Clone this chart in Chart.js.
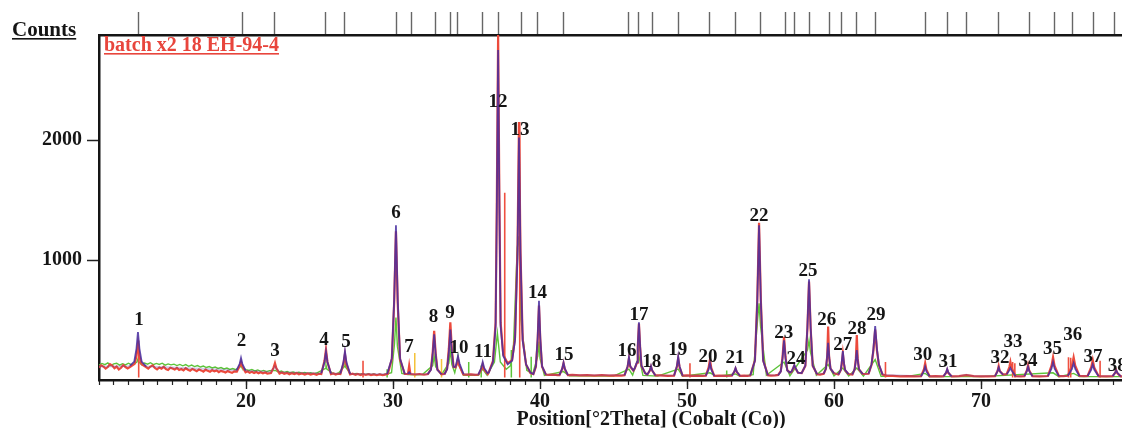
<!DOCTYPE html>
<html><head><meta charset="utf-8">
<script src="https://cdn.jsdelivr.net/npm/chart.js@4.4.0/dist/chart.umd.min.js"></script>
<style>
html,body{margin:0;padding:0;background:#fff;overflow:hidden;width:1122px;height:428px}
#wrap{position:absolute;left:0;top:0;width:1210px;height:428px}
</style>
</head><body><div id="wrap"><canvas id="c" width="1210" height="428"></canvas></div>
<script>
// ---------------- data ----------------
const xMajorTicks = [20, 30, 40, 50, 60, 70];
const yTicks = [1000, 2000];
// reference-pattern marks along the top border (°2θ)
const topTicks = [12.70, 19.73, 21.97, 25.44, 26.73, 30.27, 31.29, 32.86, 33.88, 34.42, 36.12, 37.21, 38.71, 39.86, 41.63,
  46.05, 46.73, 47.62, 49.39, 51.56, 53.27, 54.97, 56.67, 57.28, 58.30, 59.66, 60.54, 61.56, 62.79,
  66.19, 67.69, 68.98, 71.22, 73.27, 74.97, 76.19, 77.62, 79.05];

// calculated profile (purple)
const calcTrace = [[10,112],[11,114],[12,116],
 [12.1,118],[12.4,153],[12.55,262],[12.65,400],[12.75,262],[12.9,153],[13.2,114],
 [15,104],[18,88],[19.35,80],
 [19.57,135],[19.66,183],[19.75,135],[19.97,78],
 [21.7,68],[21.88,95],[21.97,115],[22.06,95],[22.3,66],
 [25.12,56],[25.34,150],[25.44,235],[25.54,150],[25.78,54],
 [26.42,53],[26.63,150],[26.73,240],[26.83,150],[27.08,51],
 [29.6,50],[29.92,180],[30.08,672],[30.2,1290],[30.32,672],[30.48,180],[30.8,50],
 [31.0,50],[31.1,65],[31.2,50],
 [32.35,48],[32.58,85],[32.7,215],[32.8,380],[32.9,215],[33.02,85],[33.3,48],
 [33.5,48],[33.68,90],[33.8,235],[33.9,420],[34.0,235],[34.12,110],[34.25,110],
 [34.33,150],[34.42,200],[34.52,140],[34.8,48],
 [35.8,45],[36.0,100],[36.1,150],[36.2,100],[36.45,52],
 [36.5,56],[36.8,150],[36.98,450],[37.06,1400],[37.15,2750],[37.24,1400],[37.32,450],[37.5,200],[37.8,130],
 [38.1,160],[38.3,330],[38.47,1050],[38.57,2020],[38.67,1050],[38.82,330],[39.05,130],[39.35,62],
 [39.55,50],[39.72,115],[39.84,350],[39.93,660],[40.02,350],[40.14,115],[40.4,45],
 [41.32,41],[41.51,95],[41.6,145],[41.69,95],[41.9,40],
 [45.75,40],[45.96,115],[46.05,190],[46.14,115],[46.35,80],
 [46.45,100],[46.6,150],[46.65,280],[46.73,480],[46.81,280],[46.9,120],[47.15,58],
 [47.3,46],[47.47,80],[47.55,117],[47.63,80],[47.85,38],
 [49.12,37],[49.31,115],[49.4,195],[49.49,115],[49.7,36],
 [51.28,36],[51.47,88],[51.56,140],[51.65,88],[51.85,35],
 [53.05,36],[53.21,68],[53.3,100],[53.39,68],[53.6,35],
 [54.3,37],[54.62,160],[54.78,660],[54.9,1290],[55.02,660],[55.18,160],[55.5,40],
 [56.2,40],[56.38,70],[56.5,180],[56.6,330],[56.7,180],[56.82,80],[57.0,62],
 [57.12,72],[57.22,100],[57.3,125],[57.38,100],[57.55,62],
 [57.8,58],[58.05,120],[58.19,440],[58.3,840],[58.41,440],[58.55,120],[58.85,48],
 [59.3,52],[59.45,95],[59.52,180],[59.6,310],[59.68,180],[59.76,95],[60.0,55],
 [60.3,46],[60.46,85],[60.52,140],[60.6,240],[60.68,140],[60.75,85],[60.98,50],
 [61.25,46],[61.4,90],[61.47,145],[61.55,250],[61.63,145],[61.7,90],[61.95,50],
 [62.35,52],[62.55,130],[62.68,260],[62.8,450],[62.92,260],[63.05,130],[63.3,45],
 [65.92,31],[66.11,72],[66.2,110],[66.29,72],[66.5,31],
 [67.45,31],[67.62,62],[67.7,92],[67.78,62],[68.0,30],
 [68.5,32],[69.0,44],[69.5,32],
 [70.95,32],[71.11,70],[71.2,105],[71.29,70],[71.5,45],
 [71.75,48],[71.91,78],[72.0,100],[72.09,78],[72.35,31],
 [72.95,32],[73.11,72],[73.2,110],[73.29,72],[73.5,31],
 [74.55,33],[74.79,95],[74.9,150],[75.01,95],[75.3,32],
 [75.9,35],[76.18,90],[76.3,140],[76.42,90],[76.7,33],
 [77.25,33],[77.49,85],[77.6,130],[77.71,85],[78.0,32],
 [78.95,32],[79.11,58],[79.2,80],[79.29,58],[79.5,31],[85,30]];

// observed pattern (red)
const obsTrace = [[10.0,105],[10.15,122],[10.3,112],[10.45,95],[10.6,108],[10.75,132],[10.9,120],[11.05,98],[11.2,112],
 [11.35,88],[11.5,102],[11.65,125],[11.8,108],[11.95,96],
 [12.15,112],[12.42,135],[12.55,200],[12.65,300],[12.75,195],[12.9,130],[13.2,108],
 [13.35,95],[13.5,112],[13.65,122],[13.8,100],[13.95,88],[14.1,104],[14.25,95],[14.4,110],[14.55,92],[14.7,84],
 [14.85,102],[15.0,96],[15.15,88],[15.3,100],[15.45,84],[15.6,92],[15.75,80],[15.9,98],[16.05,86],
 [16.2,78],[16.35,92],[16.5,84],[16.65,74],[16.8,88],[16.95,80],[17.1,70],[17.25,86],[17.4,76],[17.55,68],
 [17.7,82],[17.85,72],[18.0,80],[18.15,66],[18.3,76],[18.45,70],[18.6,62],[18.75,74],[18.9,66],[19.05,60],[19.2,72],
 [19.38,70],[19.57,118],[19.66,150],[19.75,112],[19.97,64],
 [20.1,72],[20.25,60],[20.4,68],[20.55,58],[20.7,66],[20.85,56],[21.0,64],[21.15,55],[21.3,62],[21.45,54],
 [21.7,58],[21.88,105],[21.97,140],[22.06,100],[22.28,54],
 [22.45,62],[22.6,52],[22.8,58],[22.95,48],[23.1,56],[23.3,50],[23.45,58],[23.6,47],[23.8,54],[24.0,46],
 [24.2,54],[24.4,45],[24.6,52],[24.8,44],[24.95,52],
 [25.12,50],[25.34,160],[25.44,255],[25.54,150],[25.78,48],
 [25.95,54],[26.1,45],[26.25,52],
 [26.42,50],[26.63,135],[26.73,215],[26.83,130],[27.08,46],
 [27.25,52],[27.45,44],[27.6,50],[27.8,42],[27.95,50],[28.15,42],[28.35,48],[28.5,41],[28.7,47],[28.9,40],
 [29.1,46],[29.3,40],[29.45,45],
 [29.65,52],[29.92,175],[30.08,650],[30.2,1240],[30.32,640],[30.48,170],[30.8,50],
 [31.02,50],[31.1,120],[31.18,50],[31.5,46],[31.8,50],[32.1,44],
 [32.38,50],[32.58,90],[32.7,230],[32.8,410],[32.9,225],[33.02,88],[33.3,48],
 [33.52,52],[33.68,95],[33.8,265],[33.9,480],[34.0,260],[34.12,110],[34.25,105],
 [34.34,130],[34.42,170],[34.51,120],[34.78,46],
 [35.0,44],[35.3,47],[35.6,42],
 [35.82,46],[36.01,90],[36.1,130],[36.19,88],[36.45,50],
 [36.5,60],[36.8,160],[36.98,480],[37.06,1450],[37.15,2875],[37.24,1450],[37.32,480],[37.5,210],[37.8,140],
 [38.1,165],[38.3,350],[38.47,1100],[38.57,2150],[38.67,1080],[38.82,340],[39.05,130],[39.35,58],
 [39.55,50],[39.72,110],[39.84,330],[39.93,620],[40.02,330],[40.14,110],[40.4,45],
 [40.6,42],[40.9,45],[41.2,40],
 [41.32,41],[41.51,92],[41.6,140],[41.69,90],[41.9,40],
 [42.2,42],[42.7,38],[43.2,41],[43.7,37],[44.2,40],[44.7,36],[45.2,39],[45.55,37],
 [45.75,40],[45.96,110],[46.05,180],[46.14,110],[46.35,78],
 [46.45,98],[46.6,145],[46.65,270],[46.73,470],[46.81,270],[46.9,118],[47.15,56],
 [47.3,45],[47.47,78],[47.55,110],[47.63,78],[47.85,38],
 [48.2,38],[48.7,35],
 [49.12,37],[49.31,110],[49.4,180],[49.49,108],[49.7,36],
 [50.0,38],[50.3,35],[50.7,37],[51.05,34],
 [51.28,36],[51.47,105],[51.56,170],[51.65,100],[51.85,35],
 [52.2,37],[52.6,34],
 [53.05,36],[53.21,66],[53.3,95],[53.39,65],[53.6,35],
 [53.9,36],[54.1,34],
 [54.3,37],[54.62,165],[54.78,670],[54.9,1310],[55.02,670],[55.18,165],[55.5,40],
 [55.7,37],[56.0,38],
 [56.2,42],[56.38,75],[56.5,195],[56.6,360],[56.7,192],[56.82,82],[57.0,62],
 [57.12,70],[57.22,98],[57.3,120],[57.38,98],[57.55,60],
 [57.8,58],[58.05,118],[58.19,430],[58.3,820],[58.41,430],[58.55,118],[58.85,48],
 [59.05,45],
 [59.3,52],[59.45,95],[59.54,200],[59.6,445],[59.66,200],[59.76,95],[60.0,55],
 [60.3,46],[60.46,82],[60.52,130],[60.6,220],[60.68,130],[60.75,82],[60.98,50],
 [61.25,46],[61.4,88],[61.49,180],[61.55,375],[61.61,180],[61.7,88],[61.95,50],
 [62.35,52],[62.55,125],[62.68,245],[62.8,420],[62.92,245],[63.05,125],[63.3,45],
 [63.6,35],[64.0,34],[64.5,31],[65.0,33],[65.5,30],
 [65.92,31],[66.12,90],[66.2,140],[66.28,88],[66.5,31],
 [66.9,32],[67.3,30],
 [67.45,31],[67.63,60],[67.7,85],[67.77,60],[68.0,30],
 [68.5,33],[69.0,40],[69.5,32],[70.0,30],[70.5,31],
 [70.95,32],[71.13,78],[71.2,117],[71.27,76],[71.5,45],
 [71.75,50],[71.93,108],[72.0,150],[72.07,105],[72.35,32],
 [72.7,31],
 [72.95,32],[73.13,84],[73.2,125],[73.27,82],[73.5,31],
 [74.0,30],
 [74.55,33],[74.8,122],[74.9,190],[75.0,120],[75.3,32],
 [75.6,33],
 [75.9,35],[76.19,122],[76.3,190],[76.41,120],[76.7,33],
 [77.0,32],
 [77.25,33],[77.5,108],[77.6,167],[77.7,105],[78.0,32],
 [78.5,30],
 [78.95,32],[79.13,60],[79.2,80],[79.27,58],[79.5,31],[85,30]];

// second scan (green)
const greenTrace = [[10,125],[10.2,138],[10.4,128],[10.6,142],[10.8,120],[11.0,134],[11.2,140],[11.4,124],[11.6,136],
 [11.8,126],[12.0,140],[12.2,128],[12.4,134],[12.58,150],[12.65,175],[12.72,150],[12.9,128],
 [13.1,142],[13.3,132],[13.5,144],[13.7,128],[13.9,138],[14.1,130],[14.3,140],[14.5,124],[14.7,134],[14.9,126],
 [15.1,132],[15.3,120],[15.5,130],[15.7,118],[15.9,128],[16.1,114],[16.3,124],[16.5,112],[16.7,120],[16.9,108],
 [17.1,116],[17.3,104],[17.5,112],[17.7,100],[17.9,108],[18.1,96],[18.3,104],[18.5,92],[18.7,100],[18.9,88],
 [19.1,96],[19.3,86],[19.6,108],[19.66,125],[19.72,105],[20.0,86],[20.2,80],[20.4,88],[20.6,76],[20.8,84],
 [21.0,72],[21.2,80],[21.4,70],[21.6,78],[22.0,80],[22.2,66],[22.4,74],[22.6,64],[22.8,70],[23.0,60],[23.2,66],
 [23.4,58],[23.6,64],[23.8,56],[24.0,62],[24.2,54],[24.4,60],[24.6,52],[24.8,58],
 [25.38,95],[25.44,125],[25.5,90],[25.9,56],[26.1,50],[26.3,58],[26.67,110],[26.73,150],[26.79,105],[27.1,54],
 [27.3,48],[27.5,54],[27.7,46],[27.9,52],[28.1,45],[28.3,51],[28.5,44],[28.7,50],[28.9,43],[29.1,49],[29.3,42],
 [29.5,48],[29.9,60],[30.1,300],[30.2,520],[30.3,280],[30.6,55],
 [31.0,46],[31.5,44],[32.0,46],[32.7,120],[32.8,200],[32.9,110],[33.3,44],[33.8,140],[33.9,250],[34.0,130],[34.2,60],
 [34.35,140],[34.42,200],[34.5,120],[34.8,40],[35.8,40],[36.1,90],[36.4,40],[36.9,150],[37.1,390],[37.3,150],[37.7,90],
 [38.0,120],[38.2,300],[38.45,1100],[38.57,1200],[38.7,500],[39.1,80],[39.5,50],[39.85,200],[39.93,320],[40.0,180],[40.3,38],
 [41.6,70],[42,34],[45,33],[46.05,90],[46.3,40],[46.73,200],[47.0,38],[48,32],[49.4,90],[49.7,32],[51.56,60],[52,31],
 [53.3,50],[53.6,30],[54.5,45],[54.8,500],[54.9,640],[55.0,450],[55.4,40],[56.6,150],[57.0,35],[58.2,250],[58.3,330],
 [58.4,230],[58.8,40],[59.6,130],[60.0,35],[60.6,100],[61.0,33],[61.55,100],[62.0,33],[62.8,170],[63.2,30],[65,30],
 [66.2,55],[66.5,28],[70,28],[74.9,60],[75.3,28],[76.3,55],[76.7,28],[85,28]];

// single reflection sticks
const redStickX   = [12.70, 27.96, 37.60, 38.62, 50.20, 63.50, 72.15, 72.30, 75.95, 76.10, 78.10];
const redStickTop = [330, 160, 1560, 2150, 140, 150, 150, 140, 190, 185, 160];
const greenStickX   = [29.60, 35.15, 36.00, 38.05, 39.40, 52.70];
const greenStickTop = [90, 150, 120, 250, 194, 80];
const orangeStickX   = [31.48, 33.30];
const orangeStickTop = [225, 175];

// peak numbers and where they sit (°2θ, counts)
const peakLabels = ['1','2','3','4','5','6','7','8','9','10','11','12','13','14','15','16','17','18','19',
  '20','21','22','23','24','25','26','27','28','29','30','31','32','33','34','35','36','37','38'];
const peakLabelX = [12.72, 19.70, 21.97, 25.31, 26.80, 30.20, 31.09, 32.76, 33.88, 34.49, 36.12, 37.14, 38.64, 39.83, 41.63,
  45.91, 46.73, 47.60, 49.37, 51.43, 53.27, 54.90, 56.58, 57.41, 58.23, 59.50, 60.59, 61.56, 62.86, 66.04, 67.76,
  71.29, 72.18, 73.19, 74.87, 76.24, 77.62, 79.26];
const peakLabelY = [500, 325, 242, 333, 320, 1392, 278, 525, 558, 267, 236, 2317, 2083, 725, 208,
  242, 542, 152, 250, 194, 186, 1367, 395, 175, 908, 500, 292, 425, 542, 208, 153,
  186, 320, 158, 258, 375, 194, 117];

const xMin = 10, xMax = 85.1, yMin = 0, yMax = 2875;

// ---------------- chart ----------------
const toPts = arr => arr.map(p => ({x: p[0], y: p[1]}));
const sticks = (xs, tops) => {
  const out = [];
  xs.forEach((x, i) => { out.push({x, y: 20}, {x, y: tops[i]}, {x, y: null}); });
  return out;
};
const SERIF = '"Liberation Serif", "Times New Roman", serif';
const PURPLE = 'rgba(70,45,160,0.85)';
// fade the calculated line where it only runs along the background
const calcSegColor = c => {
  const lim = c.p0.parsed.x < 30 ? 128 : 58;
  return Math.max(c.p0.parsed.y, c.p1.parsed.y) < lim ? 'rgba(70,45,160,0.25)' : PURPLE;
};

const textPlugin = {
  id: 'texts',
  afterDatasetsDraw(chart) {
    const {ctx, scales: {x, y}} = chart;
    ctx.save();
    ctx.font = 'bold 19px ' + SERIF;
    ctx.fillStyle = '#151515';
    ctx.textAlign = 'center';
    ctx.textBaseline = 'middle';
    peakLabels.forEach((t, i) => ctx.fillText(t, x.getPixelForValue(peakLabelX[i]), y.getPixelForValue(peakLabelY[i])));
    ctx.restore();
  },
  afterDraw(chart) {
    const ctx = chart.ctx;
    const under = (txt, x, yb, font, color) => {
      ctx.font = font; ctx.fillStyle = color; ctx.textAlign = 'left'; ctx.textBaseline = 'alphabetic';
      ctx.fillText(txt, x, yb);
      const w = ctx.measureText(txt).width;
      ctx.fillRect(x, yb + 2, w, 1.6);
    };
    ctx.save();
    under('Counts', 12, 36, 'bold 21px ' + SERIF, '#151515');
    under('batch x2 18 EH-94-4', 104, 51, 'bold 20px ' + SERIF, '#e8453c');
    ctx.restore();
  }
};

new Chart(document.getElementById('c'), {
  type: 'line',
  data: {
    datasets: [
      {label: 'green', data: toPts(greenTrace), borderColor: '#5cc43a', borderWidth: 1.4, order: 6},
      {label: 'greenSticks', data: sticks(greenStickX, greenStickTop), borderColor: '#5cc43a', borderWidth: 1.5, spanGaps: false, order: 5},
      {label: 'orangeSticks', data: sticks(orangeStickX, orangeStickTop), borderColor: '#f4c23a', borderWidth: 1.5, spanGaps: false, order: 5},
      {label: 'observed', data: toPts(obsTrace), borderColor: '#ec4a3c', borderWidth: 2.2, order: 3},
      {label: 'redSticks', data: sticks(redStickX, redStickTop), borderColor: '#ef5040', borderWidth: 1.6, spanGaps: false, order: 4},
      {label: 'calculated', data: toPts(calcTrace), borderColor: PURPLE, borderWidth: 1.8, order: 2,
        segment: {borderColor: calcSegColor}}
    ]
  },
  options: {
    responsive: false,
    devicePixelRatio: 1,
    animation: false,
    events: [],
    layout: {padding: {left: 0, right: 7, top: 0, bottom: 0}},
    elements: {point: {radius: 0}, line: {tension: 0}},
    plugins: {legend: {display: false}, tooltip: {enabled: false}},
    scales: {
      xMinor: {
        type: 'linear', position: 'bottom', min: xMin, max: xMax, weight: 0,
        ticks: {display: false, stepSize: 1},
        grid: {drawOnChartArea: false, drawTicks: true, tickLength: 5, tickColor: '#222', tickWidth: 1.2},
        border: {display: false},
        afterFit: s => { s.height = 0; }
      },
      x: {
        type: 'linear', position: 'bottom', min: xMin, max: xMax, weight: 1,
        afterBuildTicks: s => { s.ticks = xMajorTicks.map(v => ({value: v})); },
        ticks: {font: {family: SERIF, size: 20, weight: 'bold'}, color: '#151515', padding: 1, maxRotation: 0, autoSkip: false,
          callback: v => String(v)},
        grid: {drawOnChartArea: false, drawTicks: true, tickLength: 9, tickColor: '#222', tickWidth: 1.4},
        border: {display: true, color: '#151515', width: 2.5},
        title: {display: true, text: 'Position[°2Theta] (Cobalt (Co))', color: '#151515',
          font: {family: SERIF, size: 20, weight: 'bold', lineHeight: 0.8}, padding: {top: 0, bottom: 0}},
        afterFit: s => { s.height = 48; }
      },
      xTop: {
        type: 'linear', position: 'top', min: xMin, max: xMax,
        afterBuildTicks: s => { s.ticks = topTicks.map(v => ({value: v})); },
        ticks: {display: false},
        grid: {drawOnChartArea: false, drawTicks: true, tickLength: 23, tickColor: '#666', tickWidth: 1.4},
        border: {display: true, color: '#151515', width: 2.5},
        afterFit: s => { s.height = 35; }
      },
      y: {
        type: 'linear', position: 'left', min: yMin, max: yMax,
        afterBuildTicks: s => { s.ticks = yTicks.map(v => ({value: v})); },
        ticks: {font: {family: SERIF, size: 20, weight: 'bold'}, color: '#151515', padding: 5,
          callback: v => String(v)},
        grid: {drawOnChartArea: false, drawTicks: true, tickLength: 12, tickColor: '#222', tickWidth: 1.5},
        border: {display: true, color: '#151515', width: 2.5},
        afterFit: s => { s.width = 99; }
      }
    }
  },
  plugins: [textPlugin]
});
</script>
</body></html>
